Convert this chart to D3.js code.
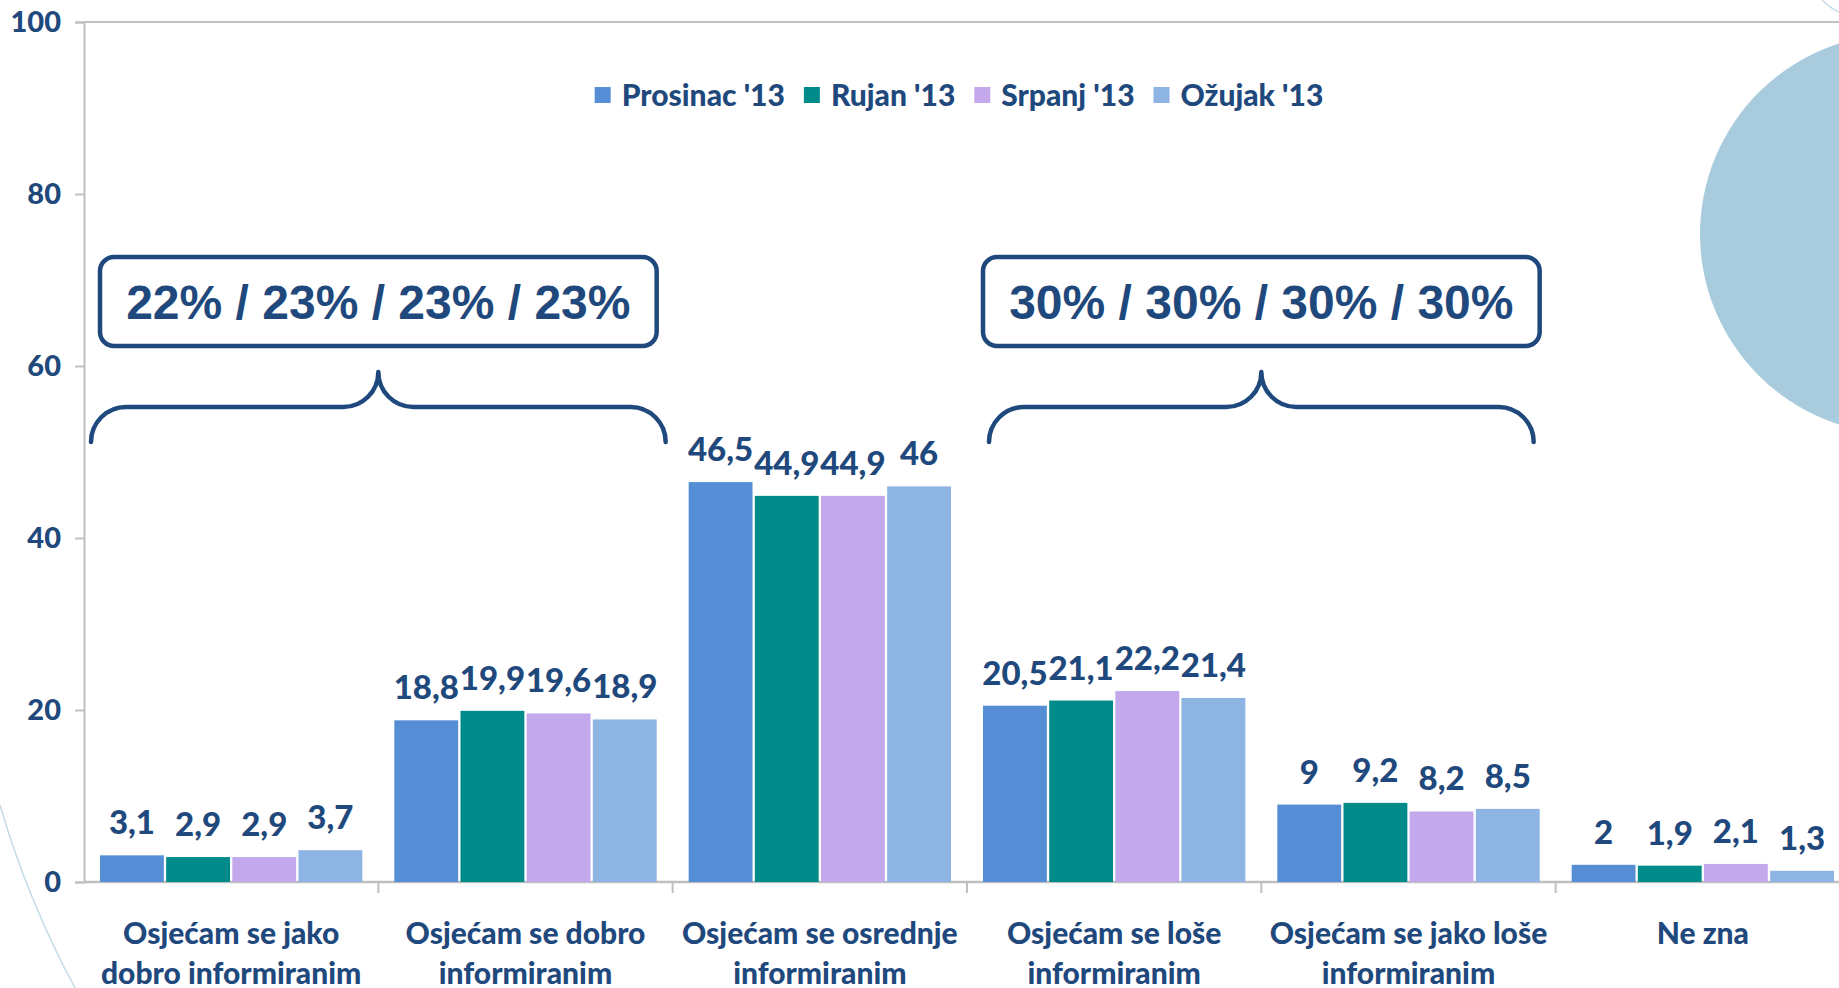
<!DOCTYPE html>
<html>
<head>
<meta charset="utf-8">
<script src="https://cdn.jsdelivr.net/npm/d3@7"></script>
<style>
  html, body { margin: 0; padding: 0; background: #fff; overflow: hidden; }
  text { font-family: Lato, "Open Sans", sans-serif; font-weight: 900; fill: #1f497d; }
</style>
</head>
<body>
<div id="chart"></div>
<script>
// ---- data ----
const categories = [
  "Osjećam se jako\ndobro informiranim",
  "Osjećam se dobro\ninformiranim",
  "Osjećam se osrednje\ninformiranim",
  "Osjećam se loše\ninformiranim",
  "Osjećam se jako loše\ninformiranim",
  "Ne zna"
]
const seriesNames = ["Prosinac '13", "Rujan '13", "Srpanj '13", "Ožujak '13"]
const prosinac = [3.1, 18.8, 46.5, 20.5, 9, 2]
const rujan    = [2.9, 19.9, 44.9, 21.1, 9.2, 1.9]
const srpanj   = [2.9, 19.6, 44.9, 22.2, 8.2, 2.1]
const ozujak   = [3.7, 18.9, 46, 21.4, 8.5, 1.3]
const yTicks = [0, 20, 40, 60, 80, 100]
const summaryText = ["22% / 23% / 23% / 23%", "30% / 30% / 30% / 30%"]
const summaryFrom = [0, 3]
const summaryTo = [1, 4]

// ---- layout ----
const W = 1839, H = 988
const colors = ["#558ed5", "#008b8b", "#c3a9eb", "#8eb4e3"]
const axisColor = "#c0c0c0"
const ink = "#1f497d"
const braceInset = [7, 22]

const svg = d3.select("#chart").append("svg")
  .attr("width", W).attr("height", H)

// decorative background
svg.append("circle").attr("cx", 1900).attr("cy", 234).attr("r", 200).attr("fill", "#a9cbde")
svg.append("path").attr("d", "M0,805 A950,950 0 0 0 75,988")
  .attr("fill", "none").attr("stroke", "#c5dde9").attr("stroke-width", 1.5)
svg.append("path").attr("d", "M1822,0 Q1830,8 1839,12")
  .attr("fill", "none").attr("stroke", "#c5dde9").attr("stroke-width", 1.5)

const x0 = d3.scaleBand().domain(categories).range([84, 1850]).padding(0)
const bw = x0.bandwidth()
const x1 = d3.scaleBand().domain(seriesNames).range([16, bw - 16]).paddingInner(0.035)
const y = d3.scaleLinear().domain([0, 100]).range([882, 22])

const series = [prosinac, rujan, srpanj, ozujak]
const rows = []
seriesNames.forEach(function (s, si) {
  categories.forEach(function (c, ci) {
    rows.push({ s: s, c: c, v: series[si][ci], color: colors[si] })
  })
})

// top border
svg.append("line")
  .attr("x1", 84).attr("x2", W).attr("y1", y(100)).attr("y2", y(100))
  .attr("stroke", axisColor).attr("stroke-width", 2)

// y axis
const yAxis = svg.append("g")
  .attr("transform", "translate(84,0)")
  .call(d3.axisLeft(y).tickValues(yTicks).tickSize(9).tickPadding(14))
yAxis.select(".domain").attr("stroke", axisColor).attr("stroke-width", 2)
yAxis.selectAll(".tick line").attr("stroke", axisColor).attr("stroke-width", 2)
yAxis.selectAll(".tick text")
  .attr("fill", ink).style("font-size", "29px").style("font-family", "Lato").style("font-weight", 900)

// x axis line with ticks between groups
const xAxis = svg.append("g")
svg.append("line")
  .attr("x1", 84).attr("x2", 1850).attr("y1", y(0)).attr("y2", y(0))
  .attr("stroke", axisColor).attr("stroke-width", 2.5)
xAxis.selectAll("line.sep")
  .data(categories.slice(1))
  .enter().append("line")
  .attr("class", "sep")
  .attr("x1", d => x0(d)).attr("x2", d => x0(d))
  .attr("y1", y(0)).attr("y2", y(0) + 11)
  .attr("stroke", axisColor).attr("stroke-width", 2)

// bars
svg.append("g").selectAll("rect")
  .data(rows)
  .enter().append("rect")
  .attr("x", d => x0(d.c) + x1(d.s))
  .attr("y", d => y(d.v))
  .attr("width", x1.bandwidth())
  .attr("height", d => y(0) - y(d.v))
  .attr("fill", d => d.color)

// value labels
const fmt = v => String(v).replace(".", ",")
svg.append("g").selectAll("text")
  .data(rows)
  .enter().append("text")
  .attr("x", d => x0(d.c) + x1(d.s) + x1.bandwidth() / 2)
  .attr("y", d => y(d.v) - 21)
  .attr("text-anchor", "middle")
  .style("font-size", "33px")
  .text(d => fmt(d.v))

// category labels
const catLabels = svg.append("g").selectAll("text")
  .data(categories)
  .enter().append("text")
  .attr("x", d => x0(d) + bw / 2)
  .attr("y", 944)
  .attr("text-anchor", "middle")
  .style("font-size", "30px")
catLabels.selectAll("tspan")
  .data(d => d.split("\n"))
  .enter().append("tspan")
  .attr("x", function () { return d3.select(this.parentNode).attr("x") })
  .attr("dy", (d, i) => i === 0 ? 0 : 40)
  .text(d => d)

// legend
const legend = svg.append("g")
let lx = 0
seriesNames.forEach(function (s, i) {
  const g = legend.append("g").attr("transform", "translate(" + lx + ",0)")
  g.append("rect").attr("x", 0).attr("y", 87).attr("width", 16).attr("height", 16).attr("fill", colors[i])
  const t = g.append("text").attr("x", 27).attr("y", 106).style("font-size", "30px").text(s)
  lx += 27 + t.node().getComputedTextLength() + 19
})
lx -= 19
legend.attr("transform", "translate(" + (959 - lx / 2) + ",0)")

// summary boxes with braces
summaryText.forEach(function (txt, i) {
  const a = x0(categories[summaryFrom[i]])
  const b = x0(categories[summaryTo[i]]) + bw
  const mid = (a + b) / 2
  svg.append("rect")
    .attr("x", a + 16).attr("y", 257)
    .attr("width", b - a - 32).attr("height", 89)
    .attr("rx", 14).attr("ry", 14)
    .attr("fill", "#fff").attr("stroke", ink).attr("stroke-width", 4.5)
  svg.append("text")
    .attr("x", mid).attr("y", 319)
    .attr("text-anchor", "middle")
    .style("font-family", "'Liberation Sans', Arial, sans-serif")
    .style("font-weight", 700)
    .style("font-size", "48px")
    .text(txt)

  const r = 35, yh = 407
  const xa = a + braceInset[i], xb = b - braceInset[i]
  const p = d3.path()
  p.moveTo(xa, yh + r)
  p.arcTo(xa, yh, xa + r, yh, r)
  p.lineTo(mid - r, yh)
  p.arcTo(mid, yh, mid, yh - r, r)
  p.moveTo(mid, yh - r)
  p.arcTo(mid, yh, mid + r, yh, r)
  p.lineTo(xb - r, yh)
  p.arcTo(xb, yh, xb, yh + r, r)
  p.lineTo(xb, yh + r)
  svg.append("path")
    .attr("d", p.toString())
    .attr("fill", "none").attr("stroke", ink).attr("stroke-width", 4.5)
    .attr("stroke-linecap", "round").attr("stroke-linejoin", "round")
})
</script>
</body>
</html>
